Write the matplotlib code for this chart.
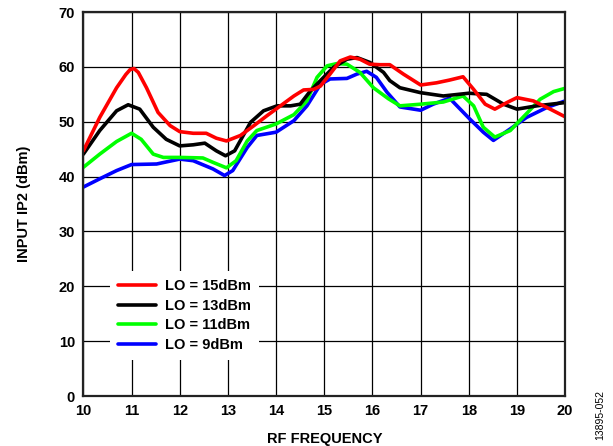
import matplotlib
matplotlib.use("Agg")
import matplotlib.pyplot as plt

plt.rcParams['font.family'] = ['Liberation Sans', 'DejaVu Sans']

# LO = 15dBm
x_lo15 = [10.0, 10.34, 10.69, 10.88, 10.97, 11.05, 11.14, 11.31, 11.55, 11.8, 12.0, 12.28, 12.55,
          12.76, 12.97, 13.26, 13.54, 13.81, 14.09, 14.37, 14.57, 14.78, 14.92, 15.12,
          15.33, 15.54, 15.74, 15.94, 16.15, 16.36, 16.64, 17.0, 17.33, 17.6, 17.88,
          18.1, 18.34, 18.54, 18.79, 19.0, 19.34, 19.69, 20.0]
y_lo15 = [44.7, 50.8, 56.2, 58.6, 59.5, 59.7, 59.0, 56.2, 51.7, 49.3, 48.2, 47.9, 47.9,
          47.0, 46.5, 47.5, 49.3, 51.1, 52.9, 54.7, 55.8, 55.9, 56.5, 58.7,
          61.1, 61.8, 61.4, 60.5, 60.4, 60.4, 58.7, 56.7, 57.1, 57.6, 58.2,
          55.9, 53.2, 52.3, 53.5, 54.4, 53.8, 52.3, 50.9]

# LO = 13dBm
x_lo13 = [10.0, 10.34, 10.69, 10.93, 11.17, 11.45, 11.72, 12.0, 12.28, 12.52, 12.76,
          12.95, 13.14, 13.47, 13.74, 14.02, 14.3, 14.5, 14.71, 14.92, 15.19, 15.47,
          15.68, 15.95, 16.23, 16.36, 16.57, 17.0, 17.47, 18.0, 18.37, 18.72, 19.0,
          19.41, 20.0]
y_lo13 = [44.1, 48.4, 52.0, 53.1, 52.3, 49.0, 46.8, 45.6, 45.8, 46.1, 44.7,
          43.8, 44.7, 49.9, 52.0, 52.9, 52.9, 53.2, 55.6, 57.5, 59.9, 61.4,
          61.7, 60.8, 59.0, 57.5, 56.2, 55.3, 54.7, 55.2, 55.0, 53.2, 52.3,
          52.9, 53.5]

# LO = 11dBm
x_lo11 = [10.0, 10.34, 10.69, 11.0, 11.2, 11.45, 11.66, 12.0, 12.48, 12.69, 12.97,
          13.17, 13.4, 13.6, 14.0, 14.37, 14.64, 14.85, 15.06, 15.26, 15.47, 15.74,
          16.02, 16.33, 16.57, 17.0, 17.47, 17.88, 18.1, 18.3, 18.54, 18.86, 19.2,
          19.48, 19.76, 20.0]
y_lo11 = [41.7, 44.1, 46.4, 47.9, 46.8, 44.1, 43.5, 43.5, 43.4, 42.6, 41.6,
          42.9, 46.5, 48.4, 49.6, 51.3, 53.8, 58.1, 60.2, 60.6, 60.5, 59.0,
          56.2, 54.2, 52.9, 53.2, 53.6, 54.7, 52.9, 49.0, 47.2, 48.4, 51.5,
          54.1, 55.5, 56.1]

# LO = 9dBm
x_lo9 = [10.0, 10.34, 10.69, 11.0, 11.52, 12.0, 12.28, 12.69, 12.93, 13.1, 13.4,
         13.6, 14.0, 14.37, 14.64, 14.92, 15.12, 15.47, 15.68, 15.88, 16.08, 16.3,
         16.57, 17.0, 17.26, 17.6, 18.02, 18.3, 18.51, 18.86, 19.2, 19.62, 20.0]
y_lo9 = [38.1, 39.6, 41.1, 42.2, 42.3, 43.2, 42.9, 41.4, 40.2, 41.1, 45.3,
         47.5, 48.1, 50.2, 52.9, 56.8, 57.8, 57.9, 58.7, 59.2, 58.1, 55.4,
         52.7, 52.1, 53.2, 54.3, 50.5, 48.1, 46.6, 48.7, 50.8, 52.6, 53.8]

x_ticks = [10, 11, 12, 13, 14, 15, 16, 17, 18, 19, 20]
y_ticks = [0, 10, 20, 30, 40, 50, 60, 70]

fig = plt.figure(figsize=(6.13, 4.46), dpi=100)
ax = fig.add_axes([0.136, 0.112, 0.786, 0.861])

series = [
    (x_lo15, y_lo15, '#ff0000', 'LO = 15dBm'),
    (x_lo13, y_lo13, '#000000', 'LO = 13dBm'),
    (x_lo11, y_lo11, '#00ff00', 'LO = 11dBm'),
    (x_lo9, y_lo9, '#0000ff', 'LO = 9dBm'),
]
# draw in reverse so red sits on top, but keep legend order
handles = []
for xs, ys, c, lab in series[::-1]:
    h, = ax.plot(xs, ys, color=c, linewidth=2.6, label=lab, solid_capstyle='round',
                 solid_joinstyle='round')
    handles.append(h)
handles = handles[::-1]

fs = 10.5
ax.set_xlim(10, 20)
ax.set_ylim(0, 70)
ax.set_xticks(x_ticks)
ax.set_yticks(y_ticks)
ax.set_xticklabels([str(t) for t in x_ticks], fontsize=fs, fontweight='bold')
ax.set_yticklabels([str(t) for t in y_ticks], fontsize=fs, fontweight='bold')
ax.tick_params(length=0, pad=6)
ax.grid(True, color='black', linewidth=0.9)
ax.set_axisbelow(True)
for sp in ax.spines.values():
    sp.set_linewidth(1.6)
    sp.set_color('#222222')

ax.set_xlabel("RF FREQUENCY", fontsize=fs, fontweight='bold', labelpad=10)
ax.set_ylabel("INPUT IP2 (dBm)", fontsize=fs, fontweight='bold', labelpad=20)

leg = ax.legend(handles=handles, loc='lower left', bbox_to_anchor=(0.04, 0.075),
                prop={'weight': 'bold', 'size': fs},
                frameon=True, fancybox=False, framealpha=1, facecolor='white',
                edgecolor='none', handlelength=2.6, handletextpad=0.6,
                labelspacing=0.38, borderpad=0.55)
for line in leg.get_lines():
    line.set_linewidth(2.6)

fig.text(0.979, 0.013, "13895-052", rotation=90, fontsize=7.5, ha='center', va='bottom')

fig.savefig("out.png", dpi=100)
